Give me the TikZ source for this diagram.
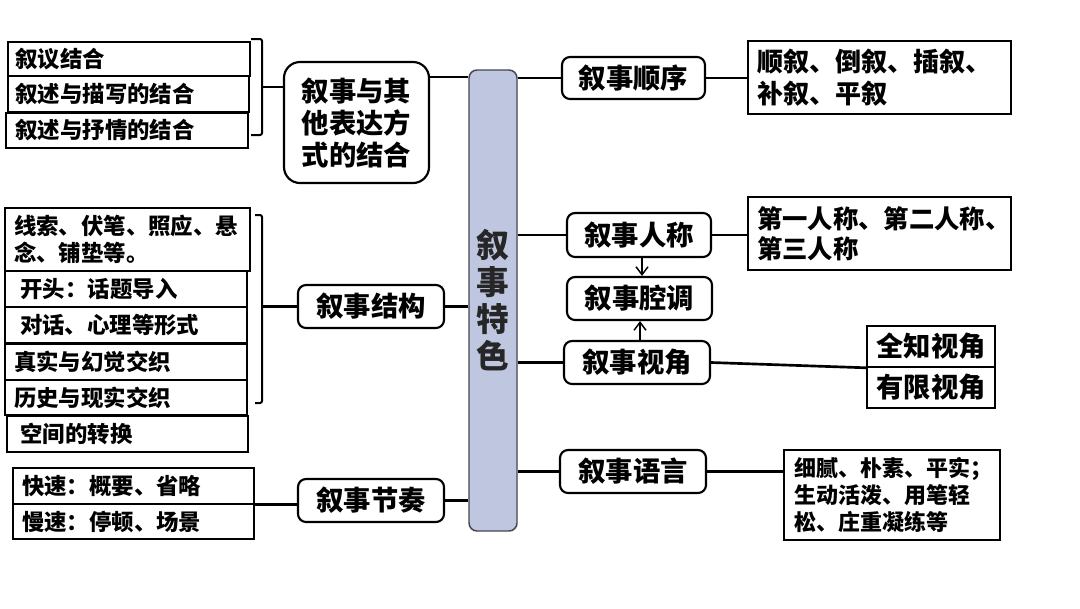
\documentclass[tikz,border=0pt]{standalone}
\usepackage{fontspec}
\setmainfont{Noto Sans CJK SC}
\usetikzlibrary{arrows.meta}
\definecolor{barfill}{RGB}{190,198,224}
\definecolor{barline}{RGB}{70,70,80}
\begin{document}
\begin{tikzpicture}[x=0.75pt,y=-0.75pt,
  sq/.style={draw, line width=1.2pt, inner ysep=0pt, align=left,
     font=\bfseries\fontsize{16.8}{20.25}\selectfont},
  rbox/.style={draw, line width=1.6pt, rounded corners=6pt, inner sep=0pt, align=center,
     minimum width=108.75pt, minimum height=32.25pt,
     font=\bfseries\fontsize{20.5}{24}\selectfont},
  cbox/.style={draw, line width=1.2pt, inner sep=0pt, align=center,
     minimum width=96pt, minimum height=30.75pt,
     font=\bfseries\fontsize{20.5}{24}\selectfont},
  conn/.style={line width=2pt},
  brk/.style={line width=1.5pt, rounded corners=1.5pt},
  arr/.style={line width=1.1pt, -{Straight Barb[length=6pt,width=9pt,line width=1.1pt]}}
]
\useasboundingbox (0,0) rectangle (1080,608);
\fill[white] (0,0) rectangle (1080,608);

% central bar
\node[draw=barline, fill=barfill, line width=1.1pt, rounded corners=6pt,
  minimum width=36pt, minimum height=345.75pt, inner sep=0pt, align=center,
  font=\bfseries\fontsize{24.5}{27.75}\selectfont, text=black!85] (bar) at (493,300.5)
  {叙\\事\\特\\色};

% ---------- left top ----------
\node[sq, minimum height=25.5pt, text width=170.3pt, inner xsep=5.6pt] (b1) at (129,59) {叙议结合};
\node[sq, minimum height=27pt, text width=169.5pt, inner xsep=5.6pt] (b2) at (128.5,94) {叙述与描写的结合};
\node[sq, minimum height=26.25pt, text width=167.3pt, inner xsep=7.1pt] (b3) at (127,130.5) {叙述与抒情的结合};
\node[rbox, rounded corners=12pt, minimum width=108.75pt, minimum height=90.75pt] (r1) at (356.5,122.5)
  {叙事与其\\他表达方\\式的结合};
\draw[brk] (251,39) -- (262,39) -- (262,135) -- (251,135);
\coordinate (br1) at (262,87);
\draw[conn] (br1) -- (br1 -| r1.west);
\coordinate (y77) at (0,77);
\draw[conn] (r1.east |- y77) -- (bar.west |- y77);

% ---------- left middle ----------
\node[sq, minimum height=47.25pt, text width=170.25pt, inner xsep=6.75pt] (sa) at (127.5,239.5)
  {线索、伏笔、照应、悬\\念、铺垫等。};
\node[sq, minimum height=27pt, text width=158.1pt, inner xsep=11.7pt] (sb) at (126,289) {开头：话题导入};
\node[sq, minimum height=27pt, text width=159pt, inner xsep=11.25pt] (sc) at (126,325) {对话、心理等形式};
\node[sq, minimum height=27pt, text width=168pt, inner xsep=6.75pt] (sd) at (126,362) {真实与幻觉交织};
\node[sq, minimum height=26.25pt, text width=168pt, inner xsep=6.75pt] (se) at (126,397.5) {历史与现实交织};
\node[sq, minimum height=27pt, text width=160.35pt, inner xsep=10.2pt] (sf) at (127.5,434) {空间的转换};
\node[rbox, minimum width=109.5pt] (r2) at (371,306.5) {叙事结构};
\draw[brk] (255,215) -- (262,215) -- (262,403) -- (255,403);
\coordinate (br2) at (262,0);
\draw[conn] (r2.west) -- (r2.west -| br2);
\draw[conn] (r2.east) -- (r2.east -| bar.west);

% ---------- left bottom ----------
\node[sq, minimum height=27pt, text width=167.25pt, inner xsep=6.75pt] (ks) at (133.5,486) {快速：概要、省略};
\node[sq, minimum height=26.25pt, text width=167.25pt, inner xsep=6.75pt] (ms) at (133.5,521.5) {慢速：停顿、场景};
\node[rbox, minimum width=109.5pt] (r3) at (371,500.5) {叙事节奏};
\draw[conn] (ks.south east) -- (ks.south east -| r3.west);
\draw[conn] (r3.east) -- (r3.east -| bar.west);

% ---------- right ----------
\node[rbox, minimum width=107.25pt, minimum height=31.5pt] (s1) at (633.5,78) {叙事顺序};
\node[sq, minimum height=54.75pt, text width=183.75pt, inner xsep=6.75pt,
  font=\bfseries\fontsize{19.5}{24}\selectfont] (rb1) at (879.5,77.5)
  {顺叙、倒叙、插叙、\\补叙、平叙};
\draw[conn] (s1.west -| bar.east) -- (s1.west);
\draw[conn] (s1.east) -- (s1.east -| rb1.west);

\node[rbox, minimum width=108pt, minimum height=33pt] (s2) at (639,235) {叙事人称};
\node[sq, minimum height=54.75pt, text width=183.75pt, inner xsep=6.75pt,
  font=\bfseries\fontsize{19}{22.5}\selectfont] (rb2) at (879.5,233.5)
  {第一人称、第二人称、\\第三人称};
\draw[conn] (s2.west -| bar.east) -- (s2.west);
\draw[conn] (s2.east) -- (s2.east -| rb2.west);

\node[rbox, minimum width=108.75pt] (s3) at (639.5,298.5) {叙事腔调};
\node[rbox, minimum width=109.5pt] (s4) at (637,362.5) {叙事视角};
\draw[arr] (s2.south -| 642,0) -- (s3.north -| 642,0);
\draw[arr] (s4.north -| 640,0) -- (s3.south -| 640,0);

\node[cbox] (qz) at (931,346.5) {全知视角};
\node[cbox] (yx) at (931,387.5) {有限视角};
\draw[conn] (s4.west -| bar.east) -- (s4.west);
\draw[conn] (s4.east) -- (qz.south west);

\node[rbox, minimum width=109.5pt] (s5) at (633,471.5) {叙事语言};
\node[sq, minimum height=67.5pt, text width=147pt, inner xsep=7.5pt,
  font=\bfseries\fontsize{16.5}{20.25}\selectfont] (rb3) at (892,495)
  {细腻、朴素、平实；\\生动活泼、用笔轻\\松、庄重凝练等};
\draw[conn] (s5.west -| bar.east) -- (s5.west);
\draw[conn] (s5.east) -- (s5.east -| rb3.west);
\end{tikzpicture}
\end{document}
